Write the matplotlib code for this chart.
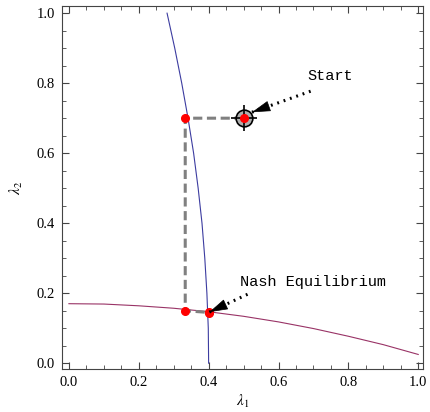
import matplotlib
matplotlib.use("Agg")
import matplotlib.pyplot as plt
from matplotlib.ticker import MultipleLocator

plt.rcParams.update({'font.family': 'Liberation Serif', 'font.size': 10.5,
                     'mathtext.fontset': 'stix'})

# best response of player 1 (lambda1 as a function of lambda2)
br1_l2 = [1.0, 0.9, 0.8, 0.7, 0.6, 0.5, 0.4, 0.3, 0.2, 0.1, 0.0]
br1_l1 = [0.281, 0.303, 0.323, 0.341, 0.357, 0.370, 0.381, 0.389, 0.395, 0.399, 0.400]

# best response of player 2 (lambda2 as a function of lambda1)
br2_l1 = [0.0, 0.1, 0.2, 0.3, 0.4, 0.5, 0.6, 0.7, 0.8, 0.9, 1.0]
br2_l2 = [0.170, 0.169, 0.164, 0.157, 0.147, 0.134, 0.118, 0.099, 0.077, 0.053, 0.025]

# iteration path from start to equilibrium
path_l1 = [0.5, 0.333, 0.333, 0.4]
path_l2 = [0.7, 0.7, 0.15, 0.145]
dots_l1 = [0.333, 0.333, 0.4, 0.4, 0.5]
dots_l2 = [0.7, 0.15, 0.147, 0.142, 0.7]

start = (0.5, 0.7)
start_tip, start_tail = (0.524, 0.717), (0.70, 0.78)
nash_tip, nash_tail = (0.402, 0.146), (0.518, 0.20)

fig = plt.figure(figsize=(4.3, 4.12), dpi=100)
ax = fig.add_axes([0.144, 0.104, 0.840, 0.881])

ax.plot(br1_l1, br1_l2, color='#3c3ca0', lw=0.8)
ax.plot(br2_l1, br2_l2, color='#993366', lw=0.8)
ax.plot(path_l1, path_l2, color='#808080', lw=2.2, ls=(0, (3, 1.5)))

# start marker: circle with crosshair
ax.plot(*start, 'o', ms=12, mfc='#b0b0b0', mec='black', mew=1.2, zorder=4)
ax.plot(*start, '+', ms=19, mec='black', mew=1.2, zorder=5)
ax.plot(dots_l1, dots_l2, 'o', color='red', ms=5.5, zorder=6)

# dotted arrows with a solid narrow head
for tip, tail in [(start_tip, start_tail), (nash_tip, nash_tail)]:
    ax.plot([tip[0], tail[0]], [tip[1], tail[1]], color='black', lw=2.2,
            ls=(0, (0.6, 1.6)), dash_capstyle='butt', zorder=6)
    mid = (tip[0] + 0.12 * (tail[0] - tip[0]), tip[1] + 0.12 * (tail[1] - tip[1]))
    ax.annotate('', xy=tip, xytext=mid, zorder=7,
                arrowprops=dict(arrowstyle='-|>,head_length=1.2,head_width=0.35',
                                lw=0.5, color='black', mutation_scale=10,
                                shrinkA=0, shrinkB=0))

ax.text(0.748, 0.82, 'Start', family='Liberation Mono', fontsize=11,
        ha='center', va='center')
ax.text(0.70, 0.231, 'Nash Equilibrium', family='Liberation Mono', fontsize=11,
        ha='center', va='center')

ax.set_xlim(-0.020, 1.014)
ax.set_ylim(-0.017, 1.020)
for a in (ax.xaxis, ax.yaxis):
    a.set_major_locator(MultipleLocator(0.2))
    a.set_minor_locator(MultipleLocator(0.05))
ax.xaxis.set_major_formatter(lambda v, p: f'{v:.1f}')
ax.yaxis.set_major_formatter(lambda v, p: f'{v:.1f}')
ax.tick_params(which='both', direction='in', top=True, right=True, color='#444444')
ax.tick_params(which='major', length=5, pad=5)
ax.tick_params(which='minor', length=3)
for s in ax.spines.values():
    s.set_color('#444444')

ax.set_xlabel(r'$\lambda_1$', fontsize=11, labelpad=3)
ax.set_ylabel(r'$\lambda_2$', fontsize=11, labelpad=8)

fig.savefig('out.png', dpi=100)
